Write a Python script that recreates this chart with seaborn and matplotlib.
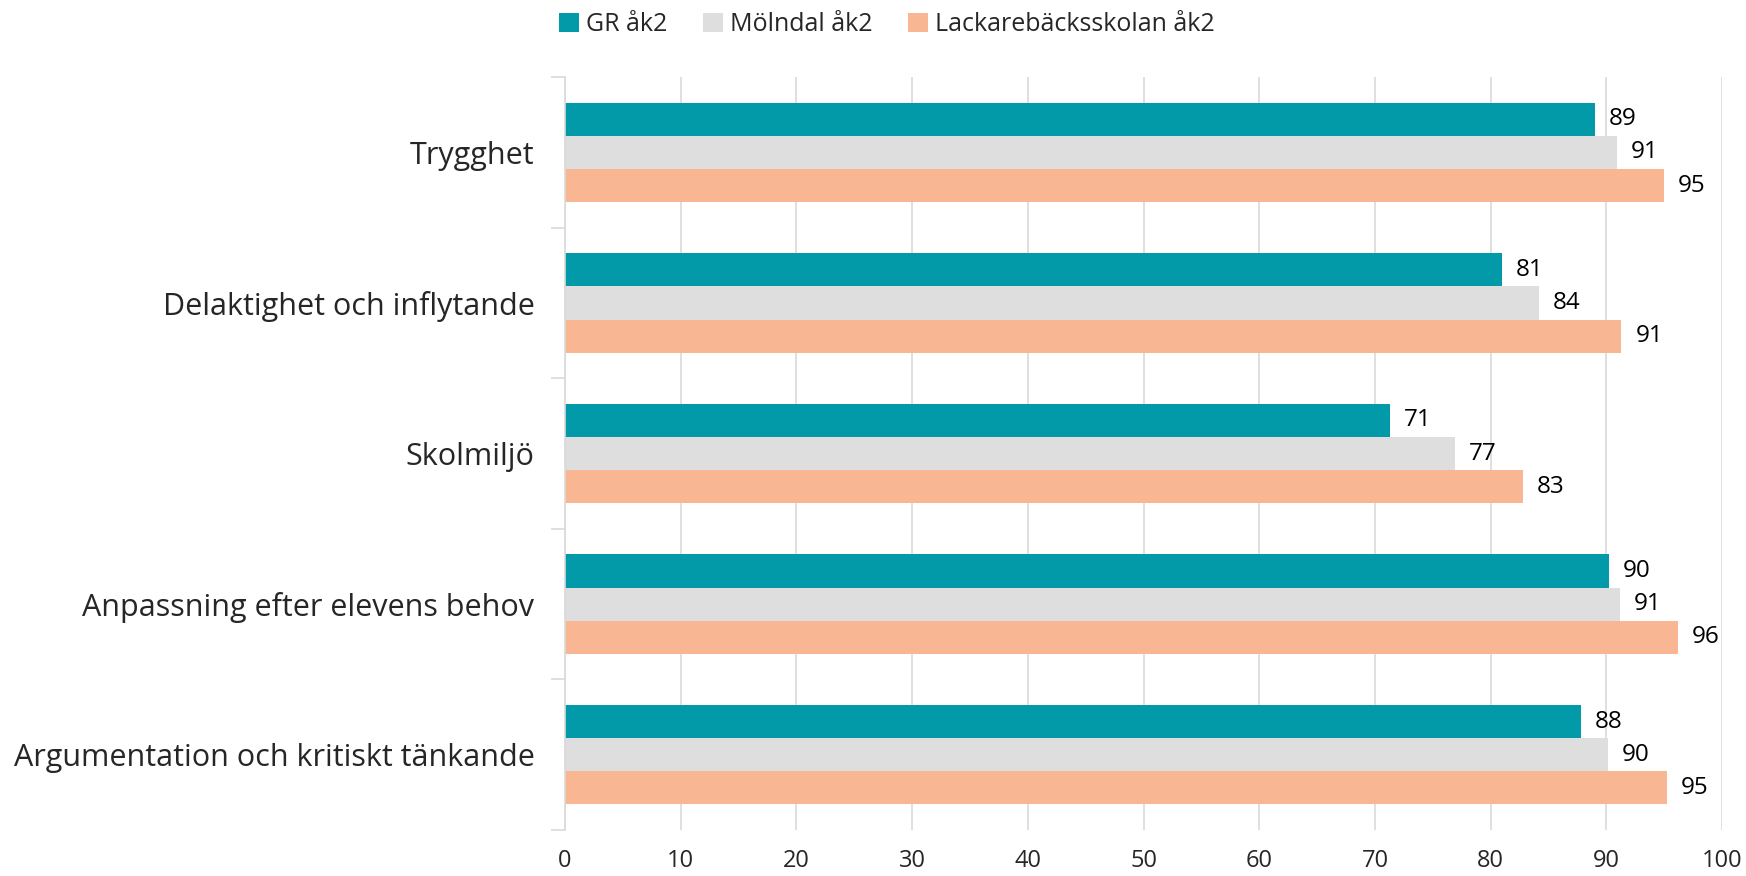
import matplotlib
matplotlib.use("Agg")
import matplotlib.pyplot as plt
from matplotlib.ticker import FixedLocator
import seaborn as sns
import pandas as pd

# Chart values
categories = ["Trygghet", "Delaktighet och inflytande", "Skolmiljö",
              "Anpassning efter elevens behov", "Argumentation och kritiskt tänkande"]
series = ["GR åk2", "Mölndal åk2", "Lackarebäcksskolan åk2"]
gr_values = [89.0, 81.0, 71.3, 90.2, 87.8]
molndal_values = [90.9, 84.2, 76.9, 91.2, 90.1]
lackare_values = [95.0, 91.3, 82.8, 96.2, 95.2]
colors = ["#029AA8", "#DEDEDE", "#F8B692"]
x_ticks = [0, 10, 20, 30, 40, 50, 60, 70, 80, 90, 100]

rows = []
for name, vals in zip(series, [gr_values, molndal_values, lackare_values]):
    for cat, v in zip(categories, vals):
        rows.append({"category": cat, "series": name, "value": v})
df = pd.DataFrame(rows)

sns.set_style("white")
plt.rcParams['font.family'] = ['Open Sans', 'DejaVu Sans']

fig = plt.figure(figsize=(17.46, 8.76), dpi=100)
ax = fig.add_axes([0.3236, 0.0525, 0.6627, 0.8595])

sns.barplot(data=df, y="category", x="value", hue="series", orient="h",
            order=categories, hue_order=series, palette=colors,
            width=0.66, saturation=1, errorbar=None, linewidth=0, ax=ax)

for cont in ax.containers:
    ax.bar_label(cont, fmt="%.0f", padding=10, fontsize=17.5, color="#000000")

ax.set_xlim(0, 100)
ax.set_xticks(x_ticks)
ax.set_ylim(len(categories) - 0.5, -0.5)
ax.set_xlabel("")
ax.set_ylabel("")
ax.grid(axis="x", color="#D9D9D9", linewidth=1.2)
ax.set_axisbelow(True)

for s in ["top", "right", "bottom"]:
    ax.spines[s].set_visible(False)
ax.spines["left"].set_color("#D9D9D9")
ax.spines["left"].set_linewidth(1.2)

ax.tick_params(axis="x", length=0, labelsize=17, pad=14)
ax.tick_params(axis="y", which="major", length=0, labelsize=22, pad=22)
ax.yaxis.set_minor_locator(FixedLocator([i - 0.5 for i in range(len(categories) + 1)]))
ax.tick_params(axis="y", which="minor", left=True, length=10, color="#D9D9D9", width=1.2)

handles, labels = ax.get_legend_handles_labels()
ax.legend(handles, labels, loc="center", bbox_to_anchor=(0.508, 0.972),
          bbox_transform=fig.transFigure, ncol=3, frameon=False, fontsize=18,
          handlelength=0.8, handleheight=0.8, handletextpad=0.3, columnspacing=1.4)

fig.savefig("out.png", dpi=100)
